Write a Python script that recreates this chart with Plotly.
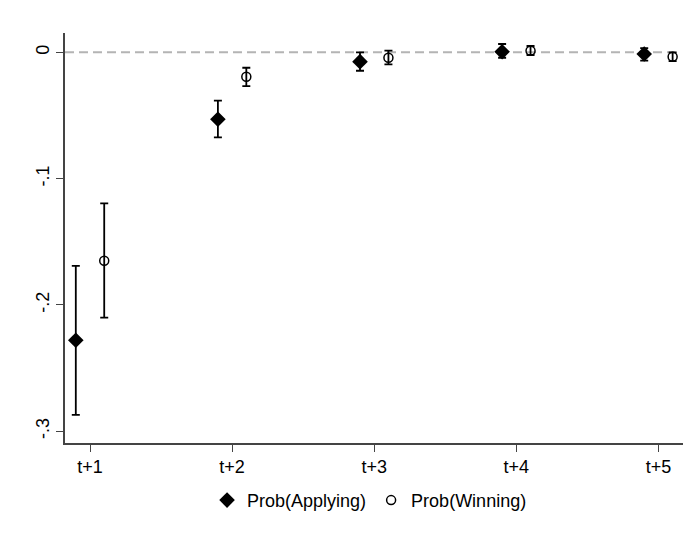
import plotly.graph_objects as go

# Horizon labels on the x axis
horizons = ['t+1', 't+2', 't+3', 't+4', 't+5']

# Prob(Applying): point estimates and 95% CI bounds
apply_est = [-0.228, -0.053, -0.0074, 0.0005, -0.0013]
apply_hi = [-0.169, -0.0383, 0.0, 0.0066, 0.0034]
apply_lo = [-0.287, -0.0673, -0.0146, -0.0043, -0.0066]

# Prob(Winning): point estimates and 95% CI bounds
win_est = [-0.165, -0.0193, -0.0043, 0.0013, -0.0035]
win_hi = [-0.1196, -0.0122, 0.0013, 0.005, 0.0]
win_lo = [-0.210, -0.0267, -0.0095, -0.0021, -0.0069]

y_ticks = [0, -0.1, -0.2, -0.3]
y_tick_labels = ['0', '-.1', '-.2', '-.3']

FONT = 'Liberation Sans, Arial, sans-serif'
pos = list(range(1, len(horizons) + 1))
shift = 0.1


def ci_errors(est, hi, lo):
    '''Turn CI bounds into plotly asymmetric error arrays.'''
    plus = [h - e for e, h in zip(est, hi)]
    minus = [e - l for e, l in zip(est, lo)]
    return dict(type='data', symmetric=False, array=plus, arrayminus=minus,
                color='black', thickness=1.8, width=4)


fig = go.Figure()
fig.add_trace(go.Scatter(
    x=[p - shift for p in pos], y=apply_est,
    mode='markers', name='Prob(Applying)',
    marker=dict(symbol='diamond', size=12, color='black'),
    error_y=ci_errors(apply_est, apply_hi, apply_lo),
))
fig.add_trace(go.Scatter(
    x=[p + shift for p in pos], y=win_est,
    mode='markers', name='Prob(Winning)',
    marker=dict(symbol='circle-open', size=9, color='black',
                line=dict(width=1.5, color='black')),
    error_y=ci_errors(win_est, win_hi, win_lo),
))

# zero reference line
fig.add_shape(type='line', xref='paper', x0=0, x1=0.985, yref='y', y0=0, y1=0,
              line=dict(color='#b4b4b4', width=2, dash='9px,5px'), layer='below')

# page body adds ~8px, so margins are trimmed to land the axes where they belong
fig.update_layout(
    width=691, height=539,
    margin=dict(l=57, r=15, t=25, b=104),
    paper_bgcolor='white', plot_bgcolor='white',
    font=dict(family=FONT, size=18, color='black'),
    showlegend=True,
    legend=dict(orientation='h', x=0.492, xanchor='center', y=-0.14,
                yanchor='middle', font=dict(size=18), itemwidth=30,
                tracegroupgap=0),
)
fig.update_xaxes(
    range=[0.824, 5.18], tickvals=pos, ticktext=horizons,
    showgrid=False, zeroline=False, showline=True, linecolor='#444',
    linewidth=1.5, ticks='outside', ticklen=7, tickwidth=1.3, tickcolor='#444',
    tickfont=dict(size=18),
)
fig.update_yaxes(
    range=[-0.3093, 0.0153], tickvals=y_ticks, ticktext=y_tick_labels,
    tickangle=-90, showgrid=False, zeroline=False, showline=True,
    linecolor='#444', linewidth=1.5, ticks='outside', ticklen=7,
    tickwidth=1.3, tickcolor='#444', tickfont=dict(size=18),
)

fig.write_html('out.html')
